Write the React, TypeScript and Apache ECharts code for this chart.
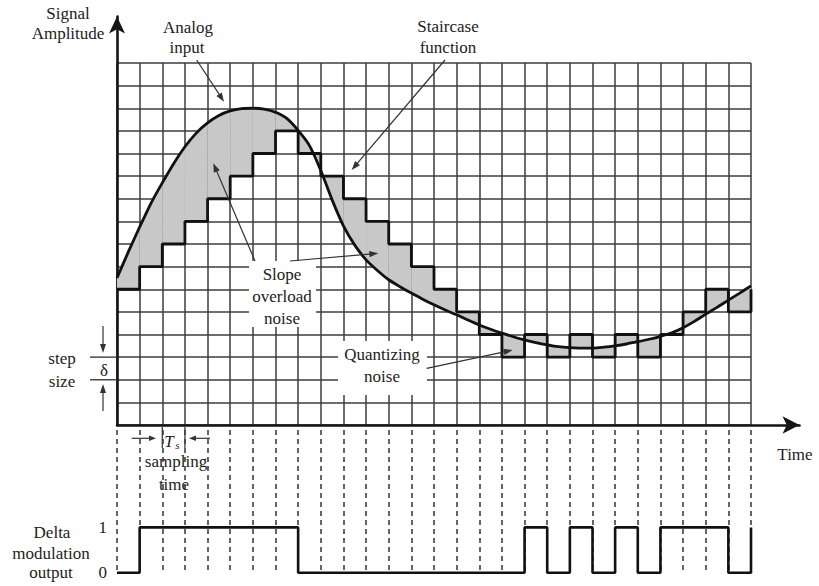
import React, { useEffect, useRef } from 'react';
import * as echarts from 'echarts';

// ---- data (grid units: 1 column = 1 sampling period, 1 row = 1 step δ) ----
const CURVE_T = [
  0, 0.5, 1, 1.5, 2, 2.5, 3, 3.5, 4, 4.5, 5, 5.5, 6, 6.5, 7, 7.5, 8, 8.5, 9, 9.5,
  10, 10.5, 11, 11.5, 12, 12.5, 13, 13.5, 14, 14.5, 15, 15.5, 16, 16.5, 17, 17.5, 18, 18.5, 19, 19.5,
  20, 20.5, 21, 21.5, 22, 22.5, 23, 23.5, 24, 24.5, 25, 25.5, 26, 26.5, 27, 27.5, 28,
];
const CURVE_AMP = [
  6.5, 7.65, 8.75, 9.8, 10.7, 11.55, 12.3, 12.9, 13.35, 13.68, 13.88, 13.98, 14.0, 13.96, 13.82, 13.55, 13.02, 12.35, 11.25, 9.95,
  8.8, 7.95, 7.3, 6.83, 6.42, 6.11, 5.83, 5.56, 5.31, 5.08, 4.87, 4.64, 4.42, 4.23, 4.06, 3.9, 3.76, 3.64, 3.54, 3.46,
  3.42, 3.4, 3.4, 3.44, 3.5, 3.58, 3.68, 3.79, 3.92, 4.08, 4.3, 4.58, 4.9, 5.2, 5.52, 5.83, 6.15,
];
// staircase level at each sampling instant 0..28
const STAIR_LEVEL = [6, 7, 8, 9, 10, 11, 12, 13, 12, 11, 10, 9, 8, 7, 6, 5, 4, 3, 4, 3, 4, 3, 4, 3, 4, 5, 6, 5, 6];
// delta modulation output bit at each sampling instant 0..28
const DELTA_BITS = [0, 1, 1, 1, 1, 1, 1, 1, 0, 0, 0, 0, 0, 0, 0, 0, 0, 0, 1, 0, 1, 0, 1, 0, 1, 1, 1, 0, 1];
const N_COLS = 28;
const N_ROWS = 16;
const DELTA_LABELS = [0, 1];

// ---- layout ----
const GL = 117;
const GT = 63;
const GW = 634;
const GH = 362;
const AXIS_BOTTOM = GT + GH; // 425
const FONT = '"Liberation Serif", "DejaVu Serif", serif';
const INK = '#222';
const GRIDC = '#3c3c3c';

function text(t: string, x: number, y: number, size = 17, extra: any = {}) {
  return {
    type: 'text',
    x,
    y,
    z: 40,
    silent: true,
    style: {
      text: t,
      fill: INK,
      fontSize: size,
      fontFamily: FONT,
      textAlign: 'center',
      textVerticalAlign: 'middle',
      ...extra,
    },
  };
}

function arrow(x1: number, y1: number, x2: number, y2: number, L = 9, W = 3.2) {
  const a = Math.atan2(y2 - y1, x2 - x1);
  const bx = x2 - L * Math.cos(a);
  const by = y2 - L * Math.sin(a);
  const px = -Math.sin(a) * W;
  const py = Math.cos(a) * W;
  return [
    {
      type: 'line',
      z: 30,
      silent: true,
      shape: { x1, y1, x2: bx + (x2 - bx) * 0.3, y2: by + (y2 - by) * 0.3 },
      style: { stroke: '#333', lineWidth: 1.2 },
    },
    {
      type: 'polygon',
      z: 30,
      silent: true,
      shape: { points: [[x2, y2], [bx + px, by + py], [bx - px, by - py]] },
      style: { fill: '#333' },
    },
  ];
}

function line(x1: number, y1: number, x2: number, y2: number, w = 1.4, c = GRIDC) {
  return { type: 'line', z: 30, silent: true, shape: { x1, y1, x2, y2 }, style: { stroke: c, lineWidth: w } };
}

export default function App() {
  const ref = useRef<HTMLDivElement>(null);

  useEffect(() => {
    if (!ref.current) return;
    const chart = echarts.init(ref.current, null, { renderer: 'svg' });

    const curvePairs = CURVE_T.map((t, i) => [t, CURVE_AMP[i]]);
    const stairPairs = STAIR_LEVEL.map((s, i) => [i, s]);
    const columnPairs = STAIR_LEVEL.slice(0, N_COLS).map((s, i) => [i, s]);
    const deltaPairs = DELTA_BITS.map((b, i) => [i, b]);

    const cellH = GH / N_ROWS;
    const yLevel = (l: number) => AXIS_BOTTOM - l * cellH;
    const cellW = GW / N_COLS;
    const xCol = (c: number) => GL + c * cellW;

    const noAxis = { show: false };
    const gridSplit = { show: true, lineStyle: { color: GRIDC, width: 1.5 } };

    const graphics: any[] = [
      // white boxes behind the in-grid labels
      { type: 'rect', z: 20, silent: true, shape: { x: 249, y: 261, width: 67, height: 66 }, style: { fill: '#fff' } },
      { type: 'rect', z: 20, silent: true, shape: { x: 338, y: 341, width: 89, height: 54 }, style: { fill: '#fff' } },

      text('Signal', 68, 13),
      text('Amplitude', 68, 33),
      text('Analog', 188, 27),
      text('input', 187, 47),
      text('Staircase', 448, 26.5),
      text('function', 448, 47),
      text('Slope', 282, 274),
      text('overload', 282, 296),
      text('noise', 282, 318),
      text('Quantizing', 382, 354),
      text('noise', 382, 376),
      text('step', 62, 358),
      text('size', 62, 381),
      text('δ', 104, 370),
      text('T', 169, 441, 17, { fontStyle: 'italic' }),
      text('s', 177.5, 444.5, 11, { fontStyle: 'italic' }),
      text('sampling', 176, 461.5),
      text('time', 174, 484),
      text('Time', 795, 454),
      text('Delta', 52, 532),
      text('modulation', 51, 553),
      text('output', 51, 572),

      ...arrow(196.7, 60, 224, 101.7),
      ...arrow(445, 60, 351.7, 170),
      ...arrow(255, 261, 213.3, 163.3),
      ...arrow(290, 261, 378.3, 253.3),
      ...arrow(426.7, 368.3, 512.7, 350),
      ...arrow(103, 326, 103, 353, 9, 3),
      ...arrow(103, 411, 103, 384, 9, 3),
      ...arrow(131.7, 438.3, 156, 438.3, 7, 2.8),
      ...arrow(210, 438.3, 189, 438.3, 7, 2.8),

      // step-size guide lines (grid rows 3 and 2 extended to the left)
      line(90, yLevel(3), GL, yLevel(3)),
      line(90, yLevel(2), GL, yLevel(2)),
      // sampling period markers
      line(xCol(2), 427, xCol(2), 448, 1.3),
      line(xCol(3), 427, xCol(3), 448, 1.3),
    ];

    const option: any = {
      animation: false,
      backgroundColor: '#fff',
      grid: [
        { left: GL, top: GT, width: GW, height: GH },
        { left: GL, top: 16.5, width: 682.5, height: AXIS_BOTTOM - 16.5 },
        { left: GL, top: 430, width: GW, height: 142.7 },
      ],
      xAxis: [
        {
          gridIndex: 0, type: 'value', min: 0, max: N_COLS, interval: 1,
          axisLine: noAxis, axisTick: noAxis, axisLabel: noAxis, splitLine: gridSplit,
        },
        {
          gridIndex: 1, type: 'value', min: 0, max: 1,
          axisLine: { show: true, symbol: ['none', 'arrow'], symbolSize: [13, 17], lineStyle: { color: '#151515', width: 2.6 } },
          axisTick: noAxis, axisLabel: noAxis, splitLine: noAxis,
        },
        {
          gridIndex: 2, type: 'value', min: 0, max: N_COLS, interval: 1,
          axisLine: noAxis, axisTick: noAxis, axisLabel: noAxis,
          splitLine: { show: true, lineStyle: { color: '#333', width: 1.5, type: [5, 4] } },
        },
      ],
      yAxis: [
        {
          gridIndex: 0, type: 'value', min: 0, max: N_ROWS, interval: 1,
          axisLine: noAxis, axisTick: noAxis, axisLabel: noAxis, splitLine: gridSplit,
        },
        {
          gridIndex: 1, type: 'value', min: 0, max: 1,
          axisLine: { show: true, symbol: ['none', 'arrow'], symbolSize: [12, 17], lineStyle: { color: '#151515', width: 2.6 } },
          axisTick: noAxis, axisLabel: noAxis, splitLine: noAxis,
        },
        {
          gridIndex: 2, type: 'value', min: 0, max: 3.15,
          axisLine: noAxis, axisTick: noAxis, splitLine: noAxis,
          axisLabel: {
            show: true, customValues: DELTA_LABELS, margin: 10,
            color: INK, fontSize: 17, fontFamily: FONT,
          },
        },
      ],
      graphic: { elements: graphics },
      series: [
        {
          type: 'custom',
          name: 'noise',
          xAxisIndex: 0,
          yAxisIndex: 0,
          silent: true,
          z: 2,
          data: columnPairs,
          renderItem: (_params: any, api: any) => {
            const i = api.value(0) as number;
            const s = api.value(1) as number;
            const pts: number[][] = [];
            for (let k = 0; k < CURVE_T.length; k++) {
              if (CURVE_T[k] >= i - 1e-9 && CURVE_T[k] <= i + 1 + 1e-9) {
                pts.push(api.coord([CURVE_T[k], CURVE_AMP[k]]));
              }
            }
            pts.push(api.coord([i + 1, s]));
            pts.push(api.coord([i, s]));
            return { type: 'polygon', shape: { points: pts }, style: { fill: '#c8c8c8' } };
          },
        },
        {
          type: 'line',
          name: 'staircase',
          xAxisIndex: 0,
          yAxisIndex: 0,
          step: 'end',
          data: stairPairs,
          showSymbol: false,
          clip: false,
          silent: true,
          z: 3,
          lineStyle: { color: '#111', width: 2.8 },
        },
        {
          type: 'line',
          name: 'analog',
          xAxisIndex: 0,
          yAxisIndex: 0,
          smooth: 0.25,
          data: curvePairs,
          showSymbol: false,
          clip: false,
          silent: true,
          z: 4,
          lineStyle: { color: '#111', width: 2.8 },
        },
        {
          type: 'line',
          name: 'delta',
          xAxisIndex: 2,
          yAxisIndex: 2,
          step: 'end',
          data: deltaPairs,
          showSymbol: false,
          clip: false,
          silent: true,
          z: 4,
          lineStyle: { color: '#111', width: 2.6 },
        },
      ],
    };

    chart.setOption(option);
    return () => chart.dispose();
  }, []);

  return (
    <div
      ref={ref}
      style={{ position: 'fixed', left: 0, top: 0, width: 819, height: 586, background: '#fff' }}
    />
  );
}
